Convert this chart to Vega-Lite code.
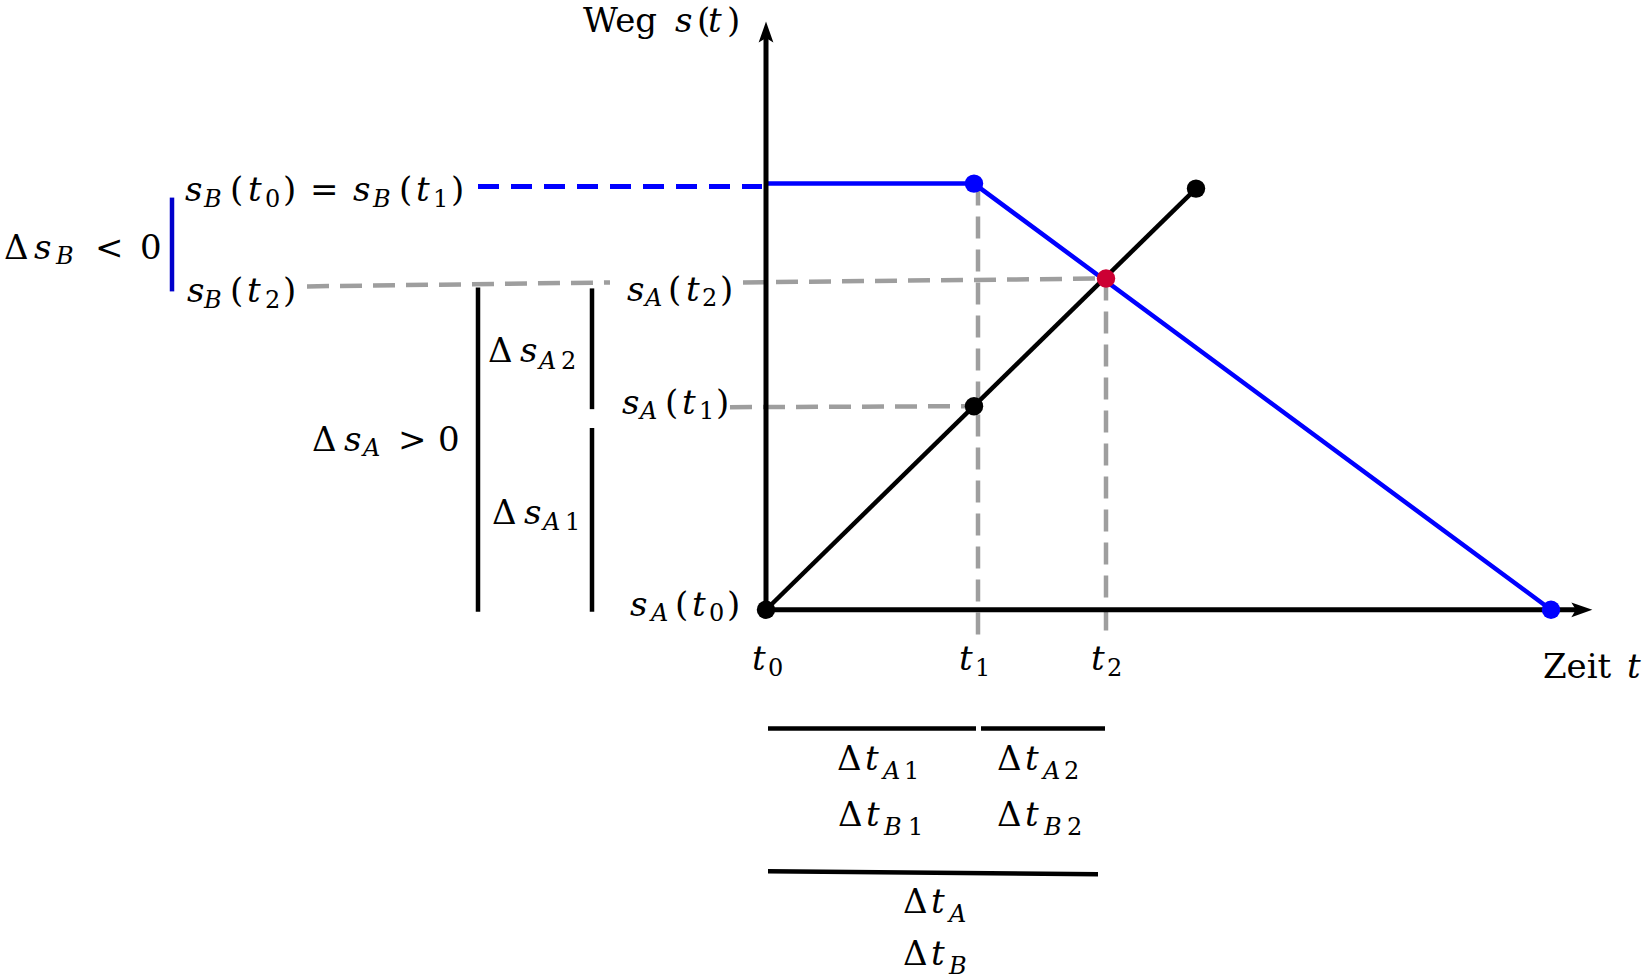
{
  "$schema": "https://vega.github.io/schema/vega-lite/v6.json",
  "width": 1642,
  "height": 979,
  "autosize": {"type": "fit", "contains": "padding"},
  "padding": 0,
  "background": "white",
  "config": {"view": {"stroke": null}},
  "datasets": {
    "lines": [
      {"id": "ax_s", "kind": "axis", "ord": 0, "t": 0, "s": 0},
      {"id": "ax_s", "kind": "axis", "ord": 1, "t": 0, "s": 5.78},
      {"id": "ax_t", "kind": "axis", "ord": 0, "t": 0, "s": 0},
      {"id": "ax_t", "kind": "axis", "ord": 1, "t": 8.15, "s": 0},
      {"id": "sA", "kind": "sA", "ord": 0, "t": 0, "s": 0},
      {"id": "sA", "kind": "sA", "ord": 1, "t": 4.30, "s": 4.22},
      {"id": "sB", "kind": "sB", "ord": 0, "t": 0, "s": 4.27},
      {"id": "sB", "kind": "sB", "ord": 1, "t": 2.08, "s": 4.27},
      {"id": "sB", "kind": "sB", "ord": 2, "t": 7.85, "s": 0},
      {"id": "g1", "kind": "guide", "ord": 0, "t": -4.59, "s": 3.24},
      {"id": "g1", "kind": "guide", "ord": 1, "t": -1.56, "s": 3.28},
      {"id": "g2", "kind": "guide", "ord": 0, "t": -0.23, "s": 3.28},
      {"id": "g2", "kind": "guide", "ord": 1, "t": 3.40, "s": 3.32},
      {"id": "g3", "kind": "guide", "ord": 0, "t": -0.36, "s": 2.03},
      {"id": "g3", "kind": "guide", "ord": 1, "t": 2.08, "s": 2.04},
      {"id": "g4", "kind": "guide", "ord": 0, "t": 2.12, "s": 4.27},
      {"id": "g4", "kind": "guide", "ord": 1, "t": 2.12, "s": -0.31},
      {"id": "g5", "kind": "guide", "ord": 0, "t": 3.40, "s": 3.32},
      {"id": "g5", "kind": "guide", "ord": 1, "t": 3.40, "s": -0.22},
      {"id": "gb", "kind": "guideB", "ord": 0, "t": -2.88, "s": 4.24},
      {"id": "gb", "kind": "guideB", "ord": 1, "t": -0.04, "s": 4.24},
      {"id": "b1", "kind": "brace", "ord": 0, "t": -2.88, "s": 3.23},
      {"id": "b1", "kind": "brace", "ord": 1, "t": -2.88, "s": -0.02},
      {"id": "b2", "kind": "brace", "ord": 0, "t": -1.74, "s": 3.22},
      {"id": "b2", "kind": "brace", "ord": 1, "t": -1.74, "s": 2.01},
      {"id": "b3", "kind": "brace", "ord": 0, "t": -1.74, "s": 1.82},
      {"id": "b3", "kind": "brace", "ord": 1, "t": -1.74, "s": -0.02},
      {"id": "b4", "kind": "brace", "ord": 0, "t": 0.02, "s": -1.19},
      {"id": "b4", "kind": "brace", "ord": 1, "t": 2.10, "s": -1.19},
      {"id": "b5", "kind": "brace", "ord": 0, "t": 2.15, "s": -1.19},
      {"id": "b5", "kind": "brace", "ord": 1, "t": 3.39, "s": -1.19},
      {"id": "b6", "kind": "brace", "ord": 0, "t": 0.02, "s": -2.62},
      {"id": "b6", "kind": "brace", "ord": 1, "t": 3.32, "s": -2.65},
      {"id": "bb", "kind": "braceB", "ord": 0, "t": -5.94, "s": 4.13},
      {"id": "bb", "kind": "braceB", "ord": 1, "t": -5.94, "s": 3.19}
    ],
    "pts": [
      {"who": "A", "t": 0, "s": 0},
      {"who": "A", "t": 2.08, "s": 2.04},
      {"who": "A", "t": 4.30, "s": 4.22},
      {"who": "B", "t": 2.08, "s": 4.27},
      {"who": "B", "t": 7.85, "s": 0},
      {"who": "AB", "t": 3.40, "s": 3.32}
    ],
    "arrows": [
      {"dir": "up", "t": 0, "s": 5.78},
      {"dir": "right", "t": 8.15, "s": 0}
    ],
    "txt": [
      {"kind": "rm", "txt": "Weg", "t": -1.83, "s": 5.79},
      {"kind": "it", "txt": "s", "t": -0.91, "s": 5.79},
      {"kind": "rm", "txt": "(", "t": -0.69, "s": 5.79},
      {"kind": "it", "txt": "t", "t": -0.58, "s": 5.79},
      {"kind": "rm", "txt": ")", "t": -0.39, "s": 5.79},

      {"kind": "it", "txt": "s", "t": -5.81, "s": 4.10},
      {"kind": "sub", "txt": "B", "t": -5.62, "s": 4.04},
      {"kind": "rm", "txt": "(", "t": -5.36, "s": 4.10},
      {"kind": "it", "txt": "t", "t": -5.18, "s": 4.10},
      {"kind": "subrm", "txt": "0", "t": -5.01, "s": 4.04},
      {"kind": "rm", "txt": ")", "t": -4.83, "s": 4.10},
      {"kind": "rm", "txt": "=", "t": -4.56, "s": 4.10},
      {"kind": "it", "txt": "s", "t": -4.13, "s": 4.10},
      {"kind": "sub", "txt": "B", "t": -3.93, "s": 4.04},
      {"kind": "rm", "txt": "(", "t": -3.67, "s": 4.10},
      {"kind": "it", "txt": "t", "t": -3.50, "s": 4.10},
      {"kind": "subrm", "txt": "1", "t": -3.33, "s": 4.04},
      {"kind": "rm", "txt": ")", "t": -3.15, "s": 4.10},

      {"kind": "rm", "txt": "Δ", "t": -7.62, "s": 3.51},
      {"kind": "it", "txt": "s", "t": -7.32, "s": 3.51},
      {"kind": "sub", "txt": "B", "t": -7.10, "s": 3.46},
      {"kind": "rm", "txt": "<", "t": -6.71, "s": 3.51},
      {"kind": "rm", "txt": "0", "t": -6.26, "s": 3.51},

      {"kind": "it", "txt": "s", "t": -5.79, "s": 3.08},
      {"kind": "sub", "txt": "B", "t": -5.62, "s": 3.02},
      {"kind": "rm", "txt": "(", "t": -5.36, "s": 3.08},
      {"kind": "it", "txt": "t", "t": -5.19, "s": 3.08},
      {"kind": "subrm", "txt": "2", "t": -5.01, "s": 3.02},
      {"kind": "rm", "txt": ")", "t": -4.83, "s": 3.08},

      {"kind": "it", "txt": "s", "t": -1.39, "s": 3.09},
      {"kind": "sub", "txt": "A", "t": -1.21, "s": 3.04},
      {"kind": "rm", "txt": "(", "t": -0.98, "s": 3.09},
      {"kind": "it", "txt": "t", "t": -0.80, "s": 3.09},
      {"kind": "subrm", "txt": "2", "t": -0.64, "s": 3.04},
      {"kind": "rm", "txt": ")", "t": -0.46, "s": 3.09},

      {"kind": "rm", "txt": "Δ", "t": -2.78, "s": 2.48},
      {"kind": "it", "txt": "s", "t": -2.46, "s": 2.48},
      {"kind": "sub", "txt": "A", "t": -2.27, "s": 2.41},
      {"kind": "subrm", "txt": "2", "t": -2.05, "s": 2.41},

      {"kind": "it", "txt": "s", "t": -1.44, "s": 1.96},
      {"kind": "sub", "txt": "A", "t": -1.26, "s": 1.91},
      {"kind": "rm", "txt": "(", "t": -1.01, "s": 1.96},
      {"kind": "it", "txt": "t", "t": -0.84, "s": 1.96},
      {"kind": "subrm", "txt": "1", "t": -0.67, "s": 1.91},
      {"kind": "rm", "txt": ")", "t": -0.50, "s": 1.96},

      {"kind": "rm", "txt": "Δ", "t": -4.54, "s": 1.59},
      {"kind": "it", "txt": "s", "t": -4.22, "s": 1.59},
      {"kind": "sub", "txt": "A", "t": -4.03, "s": 1.54},
      {"kind": "rm", "txt": ">", "t": -3.68, "s": 1.59},
      {"kind": "rm", "txt": "0", "t": -3.28, "s": 1.59},

      {"kind": "rm", "txt": "Δ", "t": -2.74, "s": 0.86},
      {"kind": "it", "txt": "s", "t": -2.42, "s": 0.86},
      {"kind": "sub", "txt": "A", "t": -2.23, "s": 0.80},
      {"kind": "subrm", "txt": "1", "t": -2.01, "s": 0.80},

      {"kind": "it", "txt": "s", "t": -1.36, "s": -0.06},
      {"kind": "sub", "txt": "A", "t": -1.15, "s": -0.11},
      {"kind": "rm", "txt": "(", "t": -0.91, "s": -0.06},
      {"kind": "it", "txt": "t", "t": -0.74, "s": -0.06},
      {"kind": "subrm", "txt": "0", "t": -0.57, "s": -0.11},
      {"kind": "rm", "txt": ")", "t": -0.39, "s": -0.06},

      {"kind": "it", "txt": "t", "t": -0.14, "s": -0.60},
      {"kind": "subrm", "txt": "0", "t": 0.02, "s": -0.66},
      {"kind": "it", "txt": "t", "t": 1.93, "s": -0.60},
      {"kind": "subrm", "txt": "1", "t": 2.09, "s": -0.66},
      {"kind": "it", "txt": "t", "t": 3.25, "s": -0.60},
      {"kind": "subrm", "txt": "2", "t": 3.41, "s": -0.66},

      {"kind": "rm", "txt": "Zeit", "t": 7.77, "s": -0.68},
      {"kind": "it", "txt": "t", "t": 8.61, "s": -0.68},

      {"kind": "rm", "txt": "Δ", "t": 0.71, "s": -1.61},
      {"kind": "it", "txt": "t", "t": 0.99, "s": -1.61},
      {"kind": "sub", "txt": "A", "t": 1.17, "s": -1.70},
      {"kind": "subrm", "txt": "1", "t": 1.38, "s": -1.70},
      {"kind": "rm", "txt": "Δ", "t": 0.72, "s": -2.17},
      {"kind": "it", "txt": "t", "t": 1.00, "s": -2.17},
      {"kind": "sub", "txt": "B", "t": 1.18, "s": -2.26},
      {"kind": "subrm", "txt": "1", "t": 1.42, "s": -2.26},
      {"kind": "rm", "txt": "Δ", "t": 2.31, "s": -1.61},
      {"kind": "it", "txt": "t", "t": 2.59, "s": -1.61},
      {"kind": "sub", "txt": "A", "t": 2.77, "s": -1.70},
      {"kind": "subrm", "txt": "2", "t": 2.98, "s": -1.70},
      {"kind": "rm", "txt": "Δ", "t": 2.31, "s": -2.17},
      {"kind": "it", "txt": "t", "t": 2.59, "s": -2.17},
      {"kind": "sub", "txt": "B", "t": 2.78, "s": -2.26},
      {"kind": "subrm", "txt": "2", "t": 3.01, "s": -2.26},
      {"kind": "rm", "txt": "Δ", "t": 1.37, "s": -3.04},
      {"kind": "it", "txt": "t", "t": 1.65, "s": -3.04},
      {"kind": "sub", "txt": "A", "t": 1.83, "s": -3.13},
      {"kind": "rm", "txt": "Δ", "t": 1.37, "s": -3.56},
      {"kind": "it", "txt": "t", "t": 1.65, "s": -3.56},
      {"kind": "sub", "txt": "B", "t": 1.83, "s": -3.65}
    ]
  },
  "encoding": {
    "x": {"field": "t", "type": "quantitative", "scale": {"domain": [-7.66, 8.76], "nice": false, "zero": false}, "axis": null},
    "y": {"field": "s", "type": "quantitative", "scale": {"domain": [-3.68, 6.11], "nice": false, "zero": false}, "axis": null}
  },
  "layer": [
    {
      "data": {"name": "lines"},
      "transform": [{"filter": "datum.kind === 'guide'"}],
      "mark": {"type": "line", "stroke": "#9e9e9e", "strokeWidth": 4.5, "strokeDash": [22, 11]},
      "encoding": {"detail": {"field": "id"}, "order": {"field": "ord"}}
    },
    {
      "data": {"name": "lines"},
      "transform": [{"filter": "datum.kind === 'guideB'"}],
      "mark": {"type": "line", "stroke": "#0000ff", "strokeWidth": 5, "strokeDash": [21, 12]},
      "encoding": {"detail": {"field": "id"}, "order": {"field": "ord"}}
    },
    {
      "data": {"name": "lines"},
      "transform": [{"filter": "datum.kind === 'brace'"}],
      "mark": {"type": "line", "stroke": "#000000", "strokeWidth": 4.5},
      "encoding": {"detail": {"field": "id"}, "order": {"field": "ord"}}
    },
    {
      "data": {"name": "lines"},
      "transform": [{"filter": "datum.kind === 'braceB'"}],
      "mark": {"type": "line", "stroke": "#0000cc", "strokeWidth": 4.5},
      "encoding": {"detail": {"field": "id"}, "order": {"field": "ord"}}
    },
    {
      "data": {"name": "lines"},
      "transform": [{"filter": "datum.kind === 'sA'"}],
      "mark": {"type": "line", "stroke": "#000000", "strokeWidth": 4.5},
      "encoding": {"detail": {"field": "id"}, "order": {"field": "ord"}}
    },
    {
      "data": {"name": "lines"},
      "transform": [{"filter": "datum.kind === 'sB'"}],
      "mark": {"type": "line", "stroke": "#0000ff", "strokeWidth": 4.5},
      "encoding": {"detail": {"field": "id"}, "order": {"field": "ord"}}
    },
    {
      "data": {"name": "lines"},
      "transform": [{"filter": "datum.kind === 'axis'"}],
      "mark": {"type": "line", "stroke": "#000000", "strokeWidth": 5},
      "encoding": {"detail": {"field": "id"}, "order": {"field": "ord"}}
    },
    {
      "data": {"name": "arrows"},
      "transform": [{"filter": "datum.dir === 'up'"}],
      "mark": {"type": "point", "filled": true, "opacity": 1, "size": 515, "shape": "M0,-1L0.65,0.85L0,0.45L-0.65,0.85Z", "color": "#000000", "angle": 0}
    },
    {
      "data": {"name": "arrows"},
      "transform": [{"filter": "datum.dir === 'right'"}],
      "mark": {"type": "point", "filled": true, "opacity": 1, "size": 515, "shape": "M0,-1L0.65,0.85L0,0.45L-0.65,0.85Z", "color": "#000000", "angle": 90}
    },
    {
      "data": {"name": "pts"},
      "mark": {"type": "point", "filled": true, "opacity": 1, "size": 340, "shape": "circle"},
      "encoding": {
        "color": {"field": "who", "type": "nominal", "scale": {"domain": ["A", "B", "AB"], "range": ["#000000", "#0000ff", "#cc0033"]}, "legend": null}
      }
    },
    {
      "data": {"name": "txt"},
      "transform": [{"filter": "datum.kind === 'rm'"}],
      "mark": {"type": "text", "align": "left", "baseline": "alphabetic", "font": "DejaVu Serif", "fontSize": 34, "color": "#000000"},
      "encoding": {"text": {"field": "txt"}}
    },
    {
      "data": {"name": "txt"},
      "transform": [{"filter": "datum.kind === 'it'"}],
      "mark": {"type": "text", "align": "left", "baseline": "alphabetic", "font": "DejaVu Serif", "fontSize": 34, "fontStyle": "italic", "color": "#000000"},
      "encoding": {"text": {"field": "txt"}}
    },
    {
      "data": {"name": "txt"},
      "transform": [{"filter": "datum.kind === 'sub'"}],
      "mark": {"type": "text", "align": "left", "baseline": "alphabetic", "font": "DejaVu Serif", "fontSize": 24, "fontStyle": "italic", "color": "#000000"},
      "encoding": {"text": {"field": "txt"}}
    },
    {
      "data": {"name": "txt"},
      "transform": [{"filter": "datum.kind === 'subrm'"}],
      "mark": {"type": "text", "align": "left", "baseline": "alphabetic", "font": "DejaVu Serif", "fontSize": 24, "color": "#000000"},
      "encoding": {"text": {"field": "txt"}}
    }
  ]
}
